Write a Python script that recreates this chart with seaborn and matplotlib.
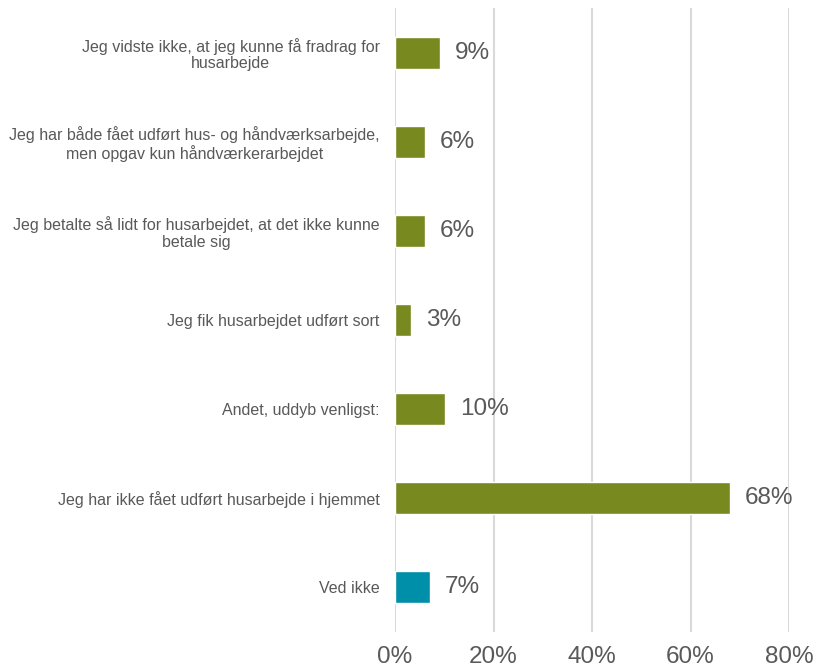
import matplotlib
matplotlib.use("Agg")
import matplotlib.pyplot as plt
import seaborn as sns
import pandas as pd

categories = [
    "Jeg vidste ikke, at jeg kunne få fradrag for\nhusarbejde",
    "Jeg har både fået udført hus- og håndværksarbejde,\nmen opgav kun håndværkerarbejdet",
    "Jeg betalte så lidt for husarbejdet, at det ikke kunne\nbetale sig",
    "Jeg fik husarbejdet udført sort",
    "Andet, uddyb venligst:",
    "Jeg har ikke fået udført husarbejde i hjemmet",
    "Ved ikke",
]
values = [9.1, 6.0, 6.0, 3.2, 10.1, 68.0, 7.1]
value_labels = ["9%", "6%", "6%", "3%", "10%", "68%", "7%"]
bar_colors = ["#77891F"] * 6 + ["#008FA8"]
x_ticks = [0, 20, 40, 60, 80]
x_tick_labels = ["0%", "20%", "40%", "60%", "80%"]

sns.set_style("white")
plt.rcParams["font.family"] = ["Liberation Sans", "DejaVu Sans"]

df = pd.DataFrame({"category": categories, "value": values})

fig = plt.figure(figsize=(8.14, 6.70), dpi=100)
ax = fig.add_axes([395 / 814, 1 - 632 / 670, (789 - 395) / 814, (632 - 8) / 670])

sns.barplot(data=df, x="value", y="category", hue="category",
            palette=bar_colors, legend=False, orient="h", width=0.36,
            ax=ax, zorder=3, saturation=1)

ax.set_xlim(0, 80)
ax.set_ylim(6.5, -0.5)
ax.set_xticks(x_ticks)
ax.set_xticklabels(x_tick_labels, fontsize=17.5, color="#595959")
ax.set_yticks(range(len(categories)))
ax.set_yticklabels(categories, fontsize=11.5, color="#595959",
                   multialignment="center", linespacing=1.1)
ax.tick_params(axis="both", length=0)
ax.tick_params(axis="y", pad=11)
ax.tick_params(axis="x", pad=10)
ax.set_xlabel("")
ax.set_ylabel("")
for s in ax.spines.values():
    s.set_visible(False)
ax.grid(axis="x", color="#D9D9D9", linewidth=1.5, zorder=0)
ax.set_axisbelow(True)

for i, (v, lab) in enumerate(zip(values, value_labels)):
    ax.annotate(lab, xy=(v, i), xytext=(11, 0), textcoords="offset points",
                ha="left", va="center", fontsize=17.5, color="#595959")

fig.savefig("out.png", dpi=100)
